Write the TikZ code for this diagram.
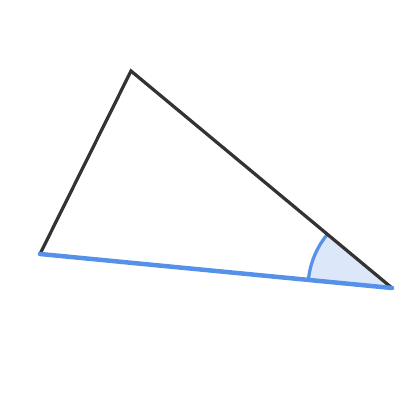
\documentclass[tikz,border=0pt]{standalone}
\usetikzlibrary{angles}
\definecolor{edgegray}{HTML}{333333}
\definecolor{baseblue}{HTML}{5591E8}
\definecolor{anglefill}{HTML}{DCE8FA}
\begin{document}
\begin{tikzpicture}
\useasboundingbox (0,0) rectangle (10,10);

\coordinate (A) at (3.275,8.225); % top
\coordinate (B) at (1.0,3.65);    % left
\coordinate (C) at (9.8,2.8);     % right

\pic[fill=anglefill,draw=baseblue,line width=2.3pt,angle radius=2.1cm] {angle=A--C--B};

\draw[edgegray,line width=2.3pt,line join=miter] (C) -- (A) -- (B); % sides
\draw[baseblue,line width=3.2pt,line cap=round] (B) -- (C); % base

\end{tikzpicture}
\end{document}
